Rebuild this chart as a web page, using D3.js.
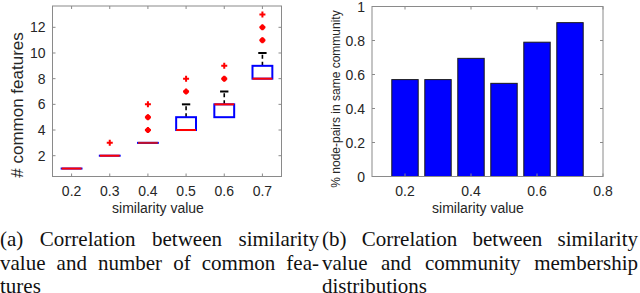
<!DOCTYPE html>
<html>
<head>
<meta charset="utf-8">
<script src="https://cdnjs.cloudflare.com/ajax/libs/d3/7.8.5/d3.min.js"></script>
<style>
  body { margin: 0; background: #fff; }
  svg { display: block; }
</style>
</head>
<body>
<script>
// ---- data: box plot (a) ----
var positions = [0.2, 0.3, 0.4, 0.5, 0.6, 0.7];
var q1Vals = [1, 2, 3, 4, 5, 8];
var medianVals = [1, 2, 3, 4, 6, 8];
var q3Vals = [1, 2, 3, 5, 6, 9];
var whiskerHigh = [1, 2, 3, 6, 7, 10];
var outlierVals = [[], [3], [4, 5, 6], [7, 8], [8, 9], [11, 12, 13]];
var leftYTicks = [2, 4, 6, 8, 10, 12];

// ---- data: bar chart (b) ----
var barX = [0.2, 0.3, 0.4, 0.5, 0.6, 0.7];
var barVals = [0.57, 0.57, 0.695, 0.548, 0.79, 0.905];
var rightXTicks = [0.2, 0.4, 0.6, 0.8];
var rightYTicks = [0, 0.2, 0.4, 0.6, 0.8, 1];

// ---- captions ----
var captionA = ["(a) Correlation between similarity", "value and number of common fea-", "tures"];
var captionB = ["(b) Correlation between similarity", "value and community membership", "distributions"];

var width = 640, height = 293;
var frameColor = "#8a8a8a";
var textColor = "#262626";
var sans = "'Liberation Sans', Arial, Helvetica, sans-serif";

var svg = d3.select("body").append("svg")
  .attr("width", width)
  .attr("height", height);

// matlab-like frame: box with tiny inward ticks on all four sides
function drawFrame(g, x, y, xTicks, yTicks) {
  var x0 = x.range()[0], x1 = x.range()[1];
  var y0 = y.range()[0], y1 = y.range()[1];
  g.append("rect")
    .attr("x", x0).attr("y", y1)
    .attr("width", x1 - x0).attr("height", y0 - y1)
    .attr("fill", "none")
    .attr("stroke", frameColor)
    .attr("stroke-width", 1);

  var tl = 3;
  xTicks.forEach(function(t) {
    g.append("line").attr("x1", x(t)).attr("x2", x(t)).attr("y1", y0).attr("y2", y0 - tl)
      .attr("stroke", frameColor);
    g.append("line").attr("x1", x(t)).attr("x2", x(t)).attr("y1", y1).attr("y2", y1 + tl)
      .attr("stroke", frameColor);
  });
  yTicks.forEach(function(t) {
    g.append("line").attr("x1", x0).attr("x2", x0 + tl).attr("y1", y(t)).attr("y2", y(t))
      .attr("stroke", frameColor);
    g.append("line").attr("x1", x1).attr("x2", x1 - tl).attr("y1", y(t)).attr("y2", y(t))
      .attr("stroke", frameColor);
  });

  // tick labels
  g.selectAll(null).data(xTicks).enter().append("text")
    .attr("x", function(d) { return x(d); })
    .attr("y", 196)
    .attr("text-anchor", "middle")
    .attr("font-family", sans)
    .attr("font-size", 14)
    .attr("fill", textColor)
    .text(function(d) { return d3.format(".1f")(d); });

  g.selectAll(null).data(yTicks).enter().append("text")
    .attr("x", x0 - 7)
    .attr("y", function(d) { return y(d) + 5; })
    .attr("text-anchor", "end")
    .attr("font-family", sans)
    .attr("font-size", 14)
    .attr("fill", textColor)
    .text(function(d) { return d === 0 || d === 1 || d >= 2 ? d3.format("~g")(d) : d3.format(".1f")(d); });
}

// ================= (a) box plot =================
var leftX = d3.scaleLinear().domain([0.15, 0.75]).range([52.5, 281.5]);
var leftY = d3.scaleLinear().domain([0.38, 13.66]).range([176.5, 6]);
var gA = svg.append("g");
drawFrame(gA, leftX, leftY, positions, leftYTicks);

var boxHalf = (leftX(0.226) - leftX(0.2));
var capHalf = boxHalf * 0.42;

positions.forEach(function(p, i) {
  var cx = leftX(p);
  // whisker (dashed) and cap
  if (whiskerHigh[i] > q3Vals[i]) {
    gA.append("line")
      .attr("x1", cx).attr("x2", cx)
      .attr("y1", leftY(q3Vals[i])).attr("y2", leftY(whiskerHigh[i]))
      .attr("stroke", "#000").attr("stroke-width", 1.6)
      .attr("stroke-dasharray", "4,3");
    gA.append("line")
      .attr("x1", cx - capHalf).attr("x2", cx + capHalf)
      .attr("y1", leftY(whiskerHigh[i])).attr("y2", leftY(whiskerHigh[i]))
      .attr("stroke", "#000").attr("stroke-width", 2);
  }
  // box
  gA.append("rect")
    .attr("x", cx - boxHalf)
    .attr("y", leftY(q3Vals[i]))
    .attr("width", boxHalf * 2)
    .attr("height", Math.max(0.01, leftY(q1Vals[i]) - leftY(q3Vals[i])))
    .attr("fill", "none")
    .attr("stroke", "#0000ff")
    .attr("stroke-width", 2);
  // median
  gA.append("line")
    .attr("x1", cx - boxHalf).attr("x2", cx + boxHalf)
    .attr("y1", leftY(medianVals[i])).attr("y2", leftY(medianVals[i]))
    .attr("stroke", q1Vals[i] === q3Vals[i] && i === 2 ? "#c0102a" : "#ff0000")
    .attr("stroke-width", 2);

  // outliers: red plus markers, stacked (repeated) ones look like blobs
  var outs = outlierVals[i];
  var top = d3.max(outs);
  outs.forEach(function(v) {
    var oy = leftY(v);
    if (v !== top) {
      gA.append("circle").attr("cx", cx).attr("cy", oy).attr("r", 2.6).attr("fill", "#ff0000");
    }
    gA.append("path")
      .attr("d", "M" + (cx - 3) + "," + oy + "H" + (cx + 3) + "M" + cx + "," + (oy - 3) + "V" + (oy + 3))
      .attr("stroke", "#ff0000")
      .attr("stroke-width", 2);
  });
});

gA.append("text")
  .attr("x", 158)
  .attr("y", 213)
  .attr("text-anchor", "middle")
  .attr("font-family", sans)
  .attr("font-size", 14)
  .attr("fill", textColor)
  .text("similarity value");

gA.append("text")
  .attr("transform", "translate(23,105) rotate(-90)")
  .attr("text-anchor", "middle")
  .attr("font-family", sans)
  .attr("font-size", 17)
  .attr("fill", textColor)
  .text("# common features");

// ================= (b) bar chart =================
var rightX = d3.scaleLinear().domain([0.1, 0.8]).range([372, 603]);
var rightY = d3.scaleLinear().domain([0, 1]).range([176.5, 6.5]);
var gB = svg.append("g");

var barW = rightX(0.18) - rightX(0.1);
gB.selectAll("rect.bar")
  .data(barVals)
  .enter()
  .append("rect")
  .attr("class", "bar")
  .attr("x", function(d, i) { return rightX(barX[i]) - barW / 2; })
  .attr("y", function(d) { return rightY(d); })
  .attr("width", barW)
  .attr("height", function(d) { return rightY(0) - rightY(d); })
  .attr("fill", "#0000ff")
  .attr("stroke", "#1a1a1a")
  .attr("stroke-width", 1);

drawFrame(gB, rightX, rightY, rightXTicks, rightYTicks.slice(1, 5));
// y labels including 0 and 1 (ticks at the ends coincide with the frame)
gB.selectAll("text.ylab")
  .data([0, 1])
  .enter()
  .append("text")
  .attr("class", "ylab")
  .attr("x", 365)
  .attr("y", function(d) { return rightY(d) + 5; })
  .attr("text-anchor", "end")
  .attr("font-family", sans)
  .attr("font-size", 14)
  .attr("fill", textColor)
  .text(function(d) { return d; });

gB.append("text")
  .attr("x", 478)
  .attr("y", 213)
  .attr("text-anchor", "middle")
  .attr("font-family", sans)
  .attr("font-size", 14)
  .attr("fill", textColor)
  .text("similarity value");

gB.append("text")
  .attr("transform", "translate(340,99) rotate(-90)")
  .attr("text-anchor", "middle")
  .attr("font-family", sans)
  .attr("font-size", 12)
  .attr("fill", textColor)
  .text("% node-pairs in same community");

// ================= captions (justified serif text) =================
var serif = "'Liberation Serif', 'Times New Roman', serif";
var lineY = [245.5, 269.5, 293];

function captionLine(x0, x1, y, str, justify) {
  var words = str.split(" ");
  var t = svg.append("text")
    .attr("y", y)
    .attr("font-family", serif)
    .attr("font-size", 21)
    .attr("fill", "#111");
  var spans = words.map(function(w) { return t.append("tspan").text(w); });
  var widths = spans.map(function(s) { return s.node().getComputedTextLength(); });
  var total = d3.sum(widths);
  var gap = justify && words.length > 1 ? (x1 - x0 - total) / (words.length - 1) : 5;
  var x = x0;
  spans.forEach(function(s, i) {
    s.attr("x", x);
    x += widths[i] + gap;
  });
}

captionA.forEach(function(s, i) { captionLine(0, 319, lineY[i], s, i < 2); });
captionB.forEach(function(s, i) { captionLine(322, 638, lineY[i], s, i < 2); });
</script>
</body>
</html>
